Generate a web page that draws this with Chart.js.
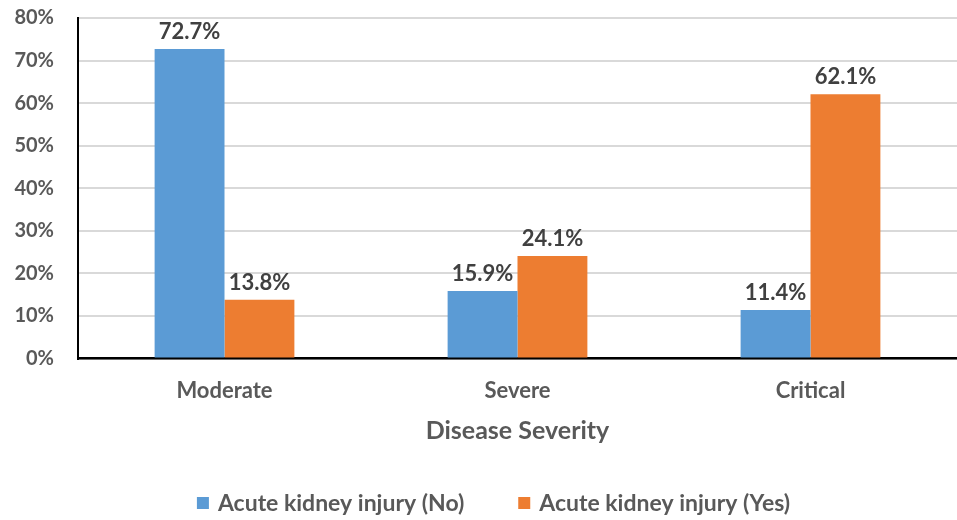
<!DOCTYPE html>
<html><head><meta charset="utf-8">
<script src="https://cdn.jsdelivr.net/npm/chart.js@4.4.0/dist/chart.umd.min.js"></script>
<style>html,body{margin:0;padding:0;background:#fff;}#wrap{width:957px;height:520px;}</style>
</head><body><div id="wrap"><canvas id="c" width="957" height="520"></canvas></div>
<script>
const categories = ["Moderate", "Severe", "Critical"];
const akiNo = [72.7, 15.9, 11.4];
const akiYes = [13.8, 24.1, 62.1];
const seriesNames = ["Acute kidney injury (No)", "Acute kidney injury (Yes)"];
const axisTitle = "Disease Severity";

const FONT = "Lato, 'Noto Sans', sans-serif";
const GREY = "#595959";

const labelPlugin = {
  id: 'barLabels',
  afterDatasetsDraw(chart) {
    const ctx = chart.ctx;
    ctx.save();
    ctx.font = "bold 22px " + FONT;
    ctx.fillStyle = "#404040";
    ctx.textAlign = "center";
    ctx.textBaseline = "bottom";
    chart.data.datasets.forEach((ds, i) => {
      const meta = chart.getDatasetMeta(i);
      meta.data.forEach((bar, j) => {
        ctx.fillText(ds.data[j].toFixed(1) + "%", bar.x, bar.y - 6);
      });
    });
    ctx.restore();
  }
};

const legendPlugin = {
  id: 'customLegend',
  afterDraw(chart) {
    const ctx = chart.ctx;
    ctx.save();
    ctx.font = "bold 23px " + FONT;
    ctx.textBaseline = "middle";
    ctx.textAlign = "left";
    const box = 12, gapText = 9, gapItem = 54, cy = 503;
    const items = chart.data.datasets.map(ds => ({ text: ds.label, color: ds.backgroundColor, w: ctx.measureText(ds.label).width }));
    const total = items.reduce((s, it) => s + box + gapText + it.w, 0) + gapItem * (items.length - 1);
    let x = 493.5 - total / 2;
    items.forEach(it => {
      ctx.fillStyle = it.color;
      ctx.fillRect(x, cy - box / 2, box, box);
      ctx.fillStyle = GREY;
      ctx.fillText(it.text, x + box + gapText, cy + 1);
      x += box + gapText + it.w + gapItem;
    });
    ctx.restore();
  }
};

new Chart(document.getElementById('c'), {
  type: 'bar',
  data: {
    labels: categories,
    datasets: [
      { label: seriesNames[0], data: akiNo, backgroundColor: "#5B9BD5" },
      { label: seriesNames[1], data: akiYes, backgroundColor: "#ED7D31" }
    ]
  },
  options: {
    responsive: false,
    animation: false,
    layout: { padding: { top: 18, right: 0, left: 0, bottom: 74 } },
    datasets: { bar: { categoryPercentage: 0.477, barPercentage: 1.0 } },
    scales: {
      x: {
        grid: { display: false, drawTicks: false },
        border: { display: true, color: "#000", width: 2.5 },
        ticks: { color: GREY, font: { family: FONT, size: 22, weight: 'bold' }, padding: 19 },
        title: { display: true, text: axisTitle, color: GREY, font: { family: FONT, size: 25, weight: 'bold' }, padding: { top: -7, bottom: 0 } },
        afterFit(scale) { scale.paddingLeft = 0; scale.paddingRight = 0; }
      },
      y: {
        min: 0, max: 80,
        ticks: { stepSize: 10, color: GREY, font: { family: FONT, size: 20, weight: 'bold' }, padding: 24, callback: v => v + "%" },
        grid: { color: "#d9d9d9", lineWidth: 2, drawTicks: false },
        border: { display: true, color: "#000", width: 2 },
        afterFit(scale) { scale.width = 78; scale.paddingTop = 0; scale.paddingBottom = 0; }
      }
    },
    plugins: {
      legend: { display: false },
      tooltip: { enabled: false }
    }
  },
  plugins: [labelPlugin, legendPlugin]
});
</script></body></html>
